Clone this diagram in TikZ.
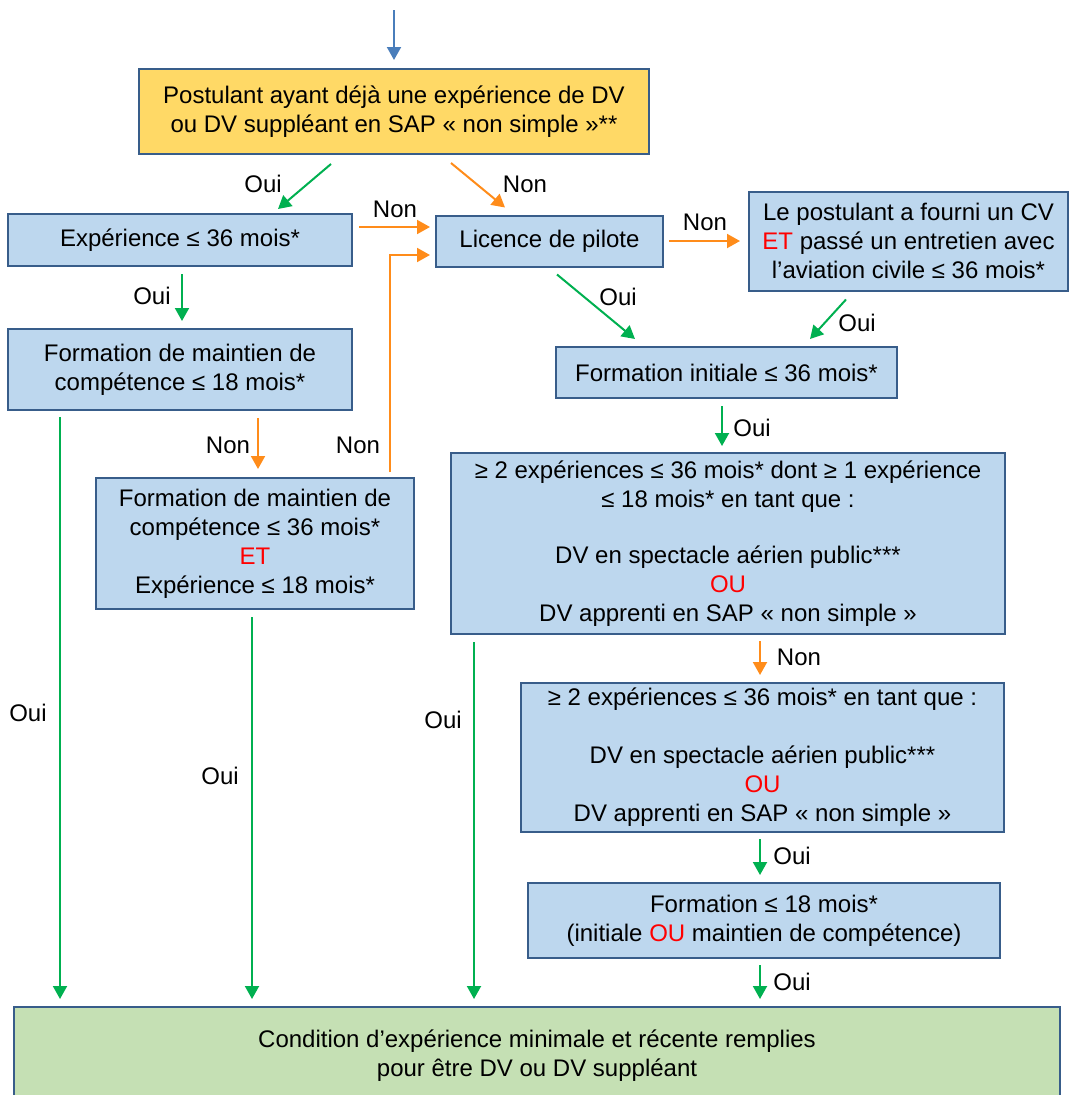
\documentclass[tikz,border=0pt]{standalone}
\usepackage{fontspec}
\setmainfont{Liberation Sans}
\usetikzlibrary{arrows.meta}
\definecolor{boxblue}{RGB}{189,215,238}
\definecolor{boxline}{RGB}{56,93,138}
\definecolor{boxyellow}{RGB}{255,217,102}
\definecolor{boxgreen}{RGB}{197,224,180}
\definecolor{arrgreen}{RGB}{0,176,80}
\definecolor{arrorange}{RGB}{255,140,26}
\definecolor{arrblue}{RGB}{74,126,187}
\definecolor{txtred}{RGB}{255,0,0}
\begin{document}
\begin{tikzpicture}[x=1pt,y=-1pt,
  txt/.style={font=\fontsize{24pt}{29pt}\selectfont},
  box/.style={txt, draw=boxline, line width=2pt, fill=boxblue, align=center, inner sep=2pt},
  lbl/.style={txt, inner sep=0pt},
  garrow/.style={draw=arrgreen, line width=2pt, -{Triangle[width=14pt,length=13pt]}},
  oarrow/.style={draw=arrorange, line width=2pt, -{Triangle[width=14pt,length=13pt]}},
  barrow/.style={draw=arrblue, line width=2pt, -{Triangle[width=14pt,length=13pt]}}
]
\useasboundingbox (0,0) rectangle (1075,1095);

% boxes
\node[box, fill=boxyellow, minimum width=510pt, minimum height=85pt] (A) at (394,111.5)
  {Postulant ayant déjà une expérience de DV\\ou DV suppléant en SAP « non simple »**};
\node[box, minimum width=344pt, minimum height=52pt] (B) at (180,240) {Expérience ≤ 36 mois*};
\node[box, minimum width=227pt, minimum height=51pt] (C) at (549.5,241) {Licence de pilote};
\node[box, minimum width=319pt, minimum height=99pt] (D) at (908.5,241)
  {Le postulant a fourni un CV\\\textcolor{txtred}{ET} passé un entretien avec\\l’aviation civile ≤ 36 mois*};
\node[box, minimum width=344pt, minimum height=81pt] (E) at (180,369.5)
  {Formation de maintien de\\compétence ≤ 18 mois*};
\node[box, minimum width=341pt, minimum height=51pt] (F) at (726.5,372.5) {Formation initiale ≤ 36 mois*};
\node[box, minimum width=318pt, minimum height=131pt] (G) at (255,543.5)
  {Formation de maintien de\\compétence ≤ 36 mois*\\\textcolor{txtred}{ET}\\Expérience ≤ 18 mois*};
\node[box, minimum width=554pt, minimum height=181pt] (H) at (728,543.5)
  {≥ 2 expériences ≤ 36 mois* dont ≥ 1 expérience\\≤ 18 mois* en tant que :\\[27pt]DV en spectacle aérien public***\\\textcolor{txtred}{OU}\\DV apprenti en SAP « non simple »};
\node[box, minimum width=483pt, minimum height=149pt] (I) at (762.5,757.5)
  {≥ 2 expériences ≤ 36 mois* en tant que :\\[29pt]DV en spectacle aérien public***\\\textcolor{txtred}{OU}\\DV apprenti en SAP « non simple »};
\node[box, minimum width=472pt, minimum height=75pt] (J) at (764,920.5)
  {Formation ≤ 18 mois*\\(initiale \textcolor{txtred}{OU} maintien de compétence)};
\node[box, fill=boxgreen, minimum width=1046pt, minimum height=98pt] (K) at (537,1056)
  {Condition d’expérience minimale et récente remplies\\pour être DV ou DV suppléant};

% connectors
\coordinate (top) at (394,10);
\draw[barrow] (top) -- ([yshift=8pt]A.north);
\draw[garrow] ([xshift=-63pt,yshift=-9pt]A.south) -- ([xshift=98pt,yshift=4pt]B.north);
\draw[oarrow] ([xshift=57pt,yshift=-8pt]A.south) -- ([xshift=-44.5pt,yshift=7pt]C.north);
\draw[oarrow] ([xshift=6pt,yshift=13pt]B.east) -- ([xshift=-5pt,yshift=14pt]C.west);
\draw[oarrow] ([xshift=135pt,yshift=5pt]G.north) |- ([xshift=-5pt,yshift=-14pt]C.west);
\draw[oarrow] ([xshift=5pt]C.east) -- ([xshift=-8pt]D.west);
\draw[garrow] ([xshift=7.5pt,yshift=-7pt]C.south) -- ([xshift=-91.5pt,yshift=7pt]F.north);
\draw[garrow] ([xshift=-62.5pt,yshift=-8pt]D.south) -- ([xshift=83.5pt,yshift=7pt]F.north);
\draw[garrow] ([xshift=2pt,yshift=-7pt]B.south) -- ([xshift=2pt,yshift=7pt]E.north);
\draw[oarrow] ([xshift=78pt,yshift=-7pt]E.south) -- ([xshift=3pt,yshift=8pt]G.north);
\coordinate (e1) at ([xshift=-120pt,yshift=-6pt]E.south);
\draw[garrow, shorten >=7pt] (e1) -- (e1 |- K.north);
\coordinate (g1) at ([xshift=-3pt,yshift=-7pt]G.south);
\draw[garrow, shorten >=7pt] (g1) -- (g1 |- K.north);
\coordinate (h1) at ([xshift=-254pt,yshift=-7pt]H.south);
\draw[garrow, shorten >=7pt] (h1) -- (h1 |- K.north);
\draw[garrow] ([xshift=-4.5pt,yshift=-7pt]F.south) -- ([xshift=-6pt,yshift=6pt]H.north);
\draw[oarrow] ([xshift=32pt,yshift=-6pt]H.south) -- ([xshift=-2.5pt,yshift=7pt]I.north);
\draw[garrow] ([xshift=-2.5pt,yshift=-6pt]I.south) -- ([xshift=-4pt,yshift=7pt]J.north);
\coordinate (j1) at ([xshift=-4pt,yshift=-6pt]J.south);
\draw[garrow, shorten >=7pt] (j1) -- (j1 |- K.north);

% labels
\node[lbl] (l1) at (263,184) {Oui};
\node[lbl] (l2) at (525,184) {Non};
\node[lbl] (l3) at (395,209) {Non};
\node[lbl] (l4) at (358,445) {Non};
\node[lbl] (l5) at (705,222) {Non};
\node[lbl] (l6) at (618,297) {Oui};
\node[lbl] (l7) at (857,323) {Oui};
\node[lbl] (l8) at (152,296) {Oui};
\node[lbl] (l9) at (228,445) {Non};
\node[lbl] (l10) at (28,713) {Oui};
\node[lbl] (l11) at (220,776) {Oui};
\node[lbl] (l12) at (443,720) {Oui};
\node[lbl] (l13) at (752,428) {Oui};
\node[lbl] (l14) at (799,657) {Non};
\node[lbl] (l15) at (792,856) {Oui};
\node[lbl] (l16) at (792,982) {Oui};
\end{tikzpicture}
\end{document}
